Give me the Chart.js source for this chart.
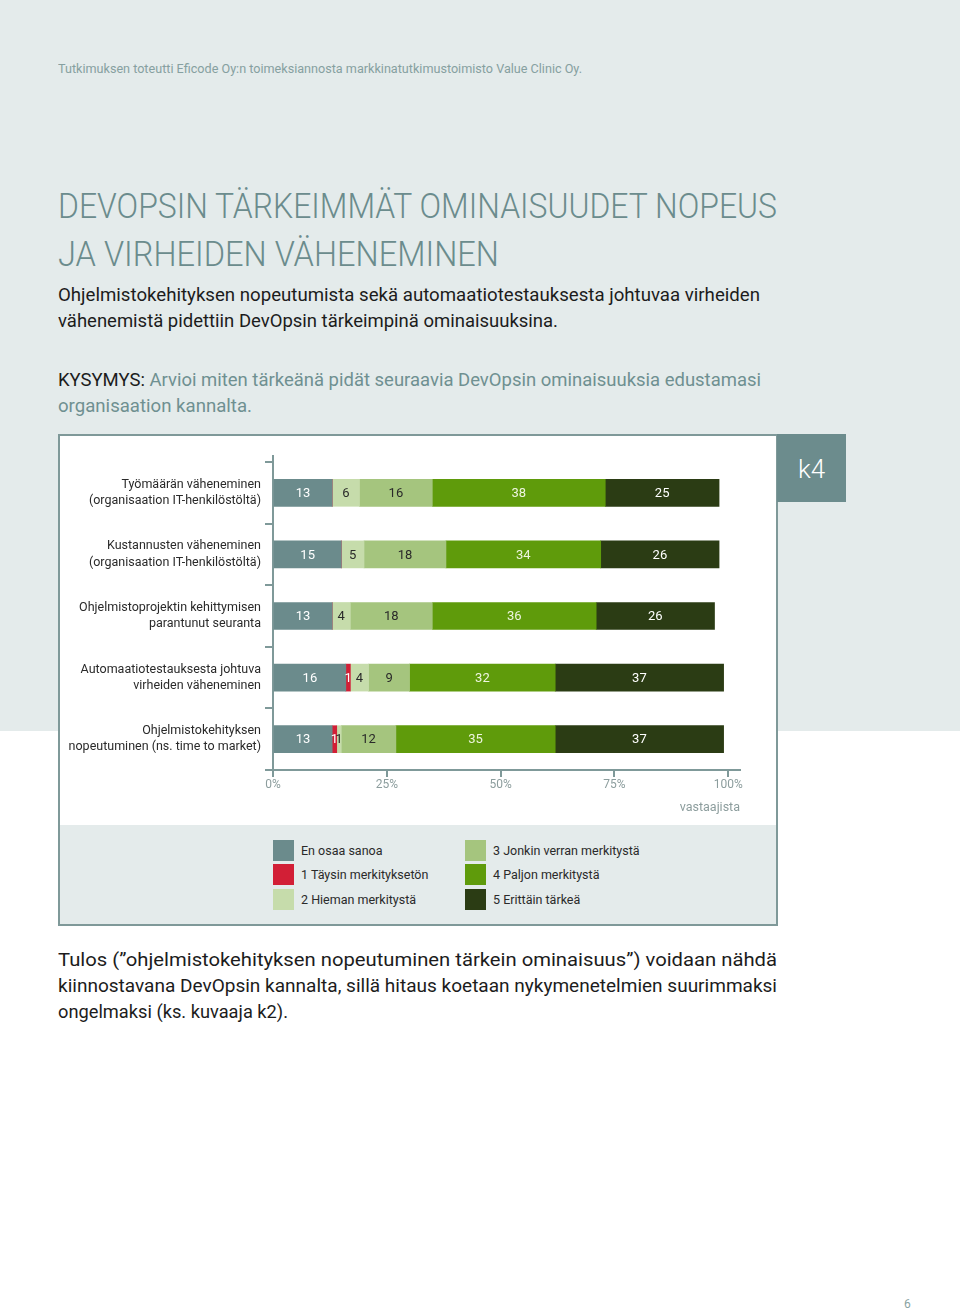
<!DOCTYPE html>
<html><head><meta charset="utf-8">
<script src="https://cdn.jsdelivr.net/npm/chart.js@4/dist/chart.umd.min.js"></script>
<style>
html,body{margin:0;padding:0;}
body{width:960px;height:1313px;position:relative;background:#fff;font-family:Roboto,sans-serif;overflow:hidden;}
#bg{position:absolute;left:0;top:0;width:960px;height:731px;background:#e4ebeb;}
.t{position:absolute;left:58px;white-space:nowrap;transform-origin:0 0;line-height:1.172;}
.title{font-size:35px;font-weight:300;color:#6b8c8d;}
.body{font-size:18.5px;color:#1c1c1c;}
.q{font-size:18.5px;color:#6f9091;}
.q b{font-weight:400;color:#1c1c1c;}
#box{position:absolute;left:58px;top:434px;width:720px;height:492px;box-sizing:border-box;border:2px solid #7f9999;background:#fff;}
#legendPanel{position:absolute;left:60px;top:825px;width:716px;height:99px;background:#e4ebeb;}
#k4{position:absolute;left:777px;top:434px;width:69px;height:68px;background:#6c8c8d;color:#fff;font-size:26px;font-weight:300;text-align:center;line-height:70px;}
#chartWrap{position:absolute;left:60px;top:436px;width:715px;height:388px;}
.lg{position:absolute;font-size:12.5px;color:#2a2a2a;white-space:nowrap;line-height:21px;}
.lg i{position:absolute;left:0;top:0;width:21px;height:21px;}
.lg span{position:absolute;left:28px;top:0;}
</style>
</head>
<body>
<div id="bg"></div>
<div class="t" data-w="524" style="top:62px;font-size:12.5px;color:#86a0a0;">Tutkimuksen toteutti Eficode Oy:n toimeksiannosta markkinatutkimustoimisto Value Clinic Oy.</div>
<div class="t title" data-w="719" style="top:185.5px;">DEVOPSIN TÄRKEIMMÄT OMINAISUUDET NOPEUS</div>
<div class="t title" data-w="441" style="top:233.5px;">JA VIRHEIDEN VÄHENEMINEN</div>
<div class="t body" data-w="702" style="top:285px;">Ohjelmistokehityksen nopeutumista sekä automaatiotestauksesta johtuvaa virheiden</div>
<div class="t body" data-w="500" style="top:311px;">vähenemistä pidettiin DevOpsin tärkeimpinä ominaisuuksina.</div>
<div class="t q" data-w="703" style="top:369.5px;"><b>KYSYMYS:</b> Arvioi miten tärkeänä pidät seuraavia DevOpsin ominaisuuksia edustamasi</div>
<div class="t q" data-w="194" style="top:395.5px;">organisaation kannalta.</div>

<div id="box"></div>
<div id="legendPanel"></div>
<div id="k4">k4</div>
<div id="chartWrap"><canvas id="c" width="715" height="388"></canvas></div>
<div id="legend"></div>

<div class="t body" data-w="719" style="top:949.5px;">Tulos (”ohjelmistokehityksen nopeutuminen tärkein ominaisuus”) voidaan nähdä</div>
<div class="t body" data-w="719" style="top:975.5px;">kiinnostavana DevOpsin kannalta, sillä hitaus koetaan nykymenetelmien suurimmaksi</div>
<div class="t body" data-w="230" style="top:1001.5px;">ongelmaksi (ks. kuvaaja k2).</div>
<div class="t" style="left:904px;top:1297px;font-size:12px;color:#8aa3a3;">6</div>

<script>
// ---- data ----
const categories = [
  ['Työmäärän väheneminen', '(organisaation IT-henkilöstöltä)'],
  ['Kustannusten väheneminen', '(organisaation IT-henkilöstöltä)'],
  ['Ohjelmistoprojektin kehittymisen', 'parantunut seuranta'],
  ['Automaatiotestauksesta johtuva', 'virheiden väheneminen'],
  ['Ohjelmistokehityksen', 'nopeutuminen (ns. time to market)']
];
const seriesNames = ['En osaa sanoa', '1 Täysin merkityksetön', '2 Hieman merkitystä', '3 Jonkin verran merkitystä', '4 Paljon merkitystä', '5 Erittäin tärkeä'];
const enOsaaSanoa = [13, 15, 13, 16, 13];
const taysinMerkitykseton = [0, 0, 0, 1, 1];
const hiemanMerkitysta = [6, 5, 4, 4, 1];
const jonkinVerranMerkitysta = [16, 18, 18, 9, 12];
const paljonMerkitysta = [38, 34, 36, 32, 35];
const erittainTarkea = [25, 26, 26, 37, 37];
const xTickValues = [0, 25, 50, 75, 100];
const xTickLabels = ['0%', '25%', '50%', '75%', '100%'];
const xAxisTitle = 'vastaajista';

const seriesColors = ['#6b8b8c', '#d21f36', '#c6dcab', '#a5c57e', '#5f9b0b', '#2b3c14'];
const labelColors = ['#ffffff', '#ffffff', '#2a2a2a', '#2a2a2a', '#eef5e0', '#ffffff'];
const seriesData = [enOsaaSanoa, taysinMerkitykseton, hiemanMerkitysta, jonkinVerranMerkitysta, paljonMerkitysta, erittainTarkea];

const FONT = 'Roboto, sans-serif';
const axisColor = '#7f9999';

const valueLabels = {
  id: 'valueLabels',
  afterDatasetsDraw(chart) {
    const ctx = chart.ctx;
    ctx.save();
    ctx.font = '13px ' + FONT;
    ctx.textAlign = 'center';
    ctx.textBaseline = 'middle';
    chart.data.datasets.forEach((ds, di) => {
      const meta = chart.getDatasetMeta(di);
      meta.data.forEach((el, i) => {
        const v = ds.data[i];
        if (!v) return;
        const p = el.getCenterPoint();
        ctx.fillStyle = labelColors[di];
        ctx.fillText(String(v), p.x, p.y + 1);
      });
    });
    ctx.restore();
  }
};

// small extension of the value axis line above the first category boundary
const axisCap = {
  id: 'axisCap',
  afterDraw(chart) {
    const a = chart.chartArea, ctx = chart.ctx;
    ctx.save();
    ctx.strokeStyle = axisColor;
    ctx.lineWidth = 2;
    ctx.beginPath();
    ctx.moveTo(a.left, a.top - 7);
    ctx.lineTo(a.left, a.top);
    ctx.stroke();
    ctx.restore();
  }
};

new Chart(document.getElementById('c'), {
  type: 'bar',
  data: {
    labels: categories,
    datasets: seriesNames.map((n, i) => ({
      label: n,
      data: seriesData[i],
      backgroundColor: seriesColors[i],
      borderWidth: 0,
      barThickness: 27
    }))
  },
  options: {
    indexAxis: 'y',
    responsive: false,
    animation: false,
    devicePixelRatio: 1,
    layout: { padding: { top: 26, right: 35, left: 0, bottom: 0 } },
    plugins: { legend: { display: false }, tooltip: { enabled: false } },
    scales: {
      x: {
        stacked: true,
        min: 0,
        max: 102.6,
        afterBuildTicks(scale) { scale.ticks = xTickValues.map(v => ({ value: v })); },
        afterFit(scale) { scale.height = 54; },
        ticks: {
          callback: (v) => xTickLabels[xTickValues.indexOf(v)] ?? '',
          color: '#8c9d9d',
          font: { family: FONT, size: 12 },
          padding: 1,
          autoSkip: false,
          maxRotation: 0
        },
        grid: { drawOnChartArea: false, drawTicks: true, tickLength: 7, color: axisColor, lineWidth: 2 },
        border: { color: axisColor, width: 2 },
        title: { display: true, text: xAxisTitle, align: 'end', color: '#8c9d9d', font: { family: FONT, size: 12.5 }, padding: { top: 0, bottom: 9 } }
      },
      y: {
        stacked: true,
        afterFit(scale) { scale.width = 213; },
        ticks: {
          color: '#2a2a2a',
          font: { family: FONT, size: 12.5, lineHeight: 1.3 },
          padding: 4,
          autoSkip: false
        },
        grid: { drawOnChartArea: false, drawTicks: true, tickLength: 8, color: axisColor, lineWidth: 2, offset: true },
        border: { color: axisColor, width: 2 }
      }
    }
  },
  plugins: [valueLabels, axisCap]
});

// legend built from series names/colours (column-major, 3 rows)
const legendEl = document.getElementById('legend');
const colX = [273, 465];
const rowY = [840, 864, 889];
seriesNames.forEach((n, i) => {
  const d = document.createElement('div');
  d.className = 'lg';
  d.style.left = colX[Math.floor(i / 3)] + 'px';
  d.style.top = rowY[i % 3] + 'px';
  d.innerHTML = '<i style="background:' + seriesColors[i] + '"></i><span>' + n + '</span>';
  legendEl.appendChild(d);
});

function fit() {
  document.querySelectorAll('[data-w]').forEach(el => {
    el.style.transform = 'none';
    const w = el.getBoundingClientRect().width;
    el.style.transform = 'scaleX(' + (parseFloat(el.dataset.w) / w) + ')';
  });
}
fit();
if (document.fonts && document.fonts.ready) document.fonts.ready.then(fit);
</script>
</body></html>
